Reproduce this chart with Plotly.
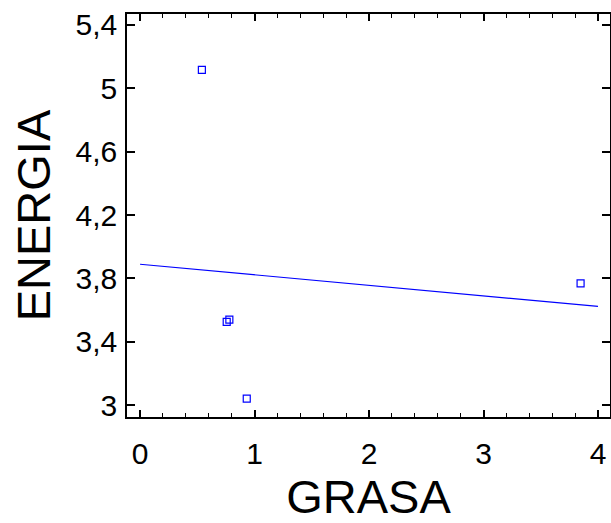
import numpy as np
import plotly.graph_objects as go

grasa = [0.54, 0.757, 0.78, 0.932, 3.848]
energia = [5.116, 3.526, 3.54, 3.042, 3.769]
x_ticks = [0, 1, 2, 3, 4]
y_ticks = [3.0, 3.4, 3.8, 4.2, 4.6, 5.0, 5.4]
fit_x_range = [0, 4]

slope, intercept = np.polyfit(grasa, energia, 1)
fit_x = np.array(fit_x_range, dtype=float)
fit_y = intercept + slope * fit_x

fig = go.Figure()
fig.add_trace(go.Scatter(
    x=fit_x, y=fit_y, mode="lines",
    line=dict(color="#0000ff", width=1.2), showlegend=False, hoverinfo="skip"))
fig.add_trace(go.Scatter(
    x=grasa, y=energia, mode="markers",
    marker=dict(symbol="square-open", size=7, color="#0000ff", line=dict(width=1.2)),
    showlegend=False))

font_family = "Liberation Sans, Arial, sans-serif"
fig.update_layout(
    width=611, height=523,
    margin=dict(l=127, r=1, t=14, b=106, autoexpand=False),
    paper_bgcolor="white", plot_bgcolor="white",
    separators=",.",
    font=dict(family=font_family, color="black"),
    xaxis=dict(
        range=[-0.114, 4.105], tickvals=x_ticks, ticks="inside", ticklen=7, tickwidth=1.5,
        tickcolor="black", showline=True, linecolor="black", linewidth=1.5, mirror="ticks",
        showgrid=False, zeroline=False, tickfont=dict(size=30, family=font_family),
        ticklabelstandoff=9, automargin=False,
        minor=dict(dtick=0.2, tick0=0, ticks="inside", ticklen=4, tickwidth=1, tickcolor="black"),
        title=dict(text="GRASA", font=dict(size=47, family=font_family), standoff=14),
    ),
    yaxis=dict(
        range=[2.926, 5.469], tickvals=y_ticks, ticks="inside", ticklen=8, tickwidth=1.5,
        tickcolor="black", showline=True, linecolor="black", linewidth=1.5, mirror="ticks",
        showgrid=False, zeroline=False, tickfont=dict(size=30, family=font_family),
        ticklabelstandoff=2, tickformat=".1~f", automargin=False,
        title=dict(text="ENERGIA", font=dict(size=47, family=font_family), standoff=10),
    ),
)

fig.write_html("out.html", post_script="document.body.style.margin='0';",
               config={"displayModeBar": False})
